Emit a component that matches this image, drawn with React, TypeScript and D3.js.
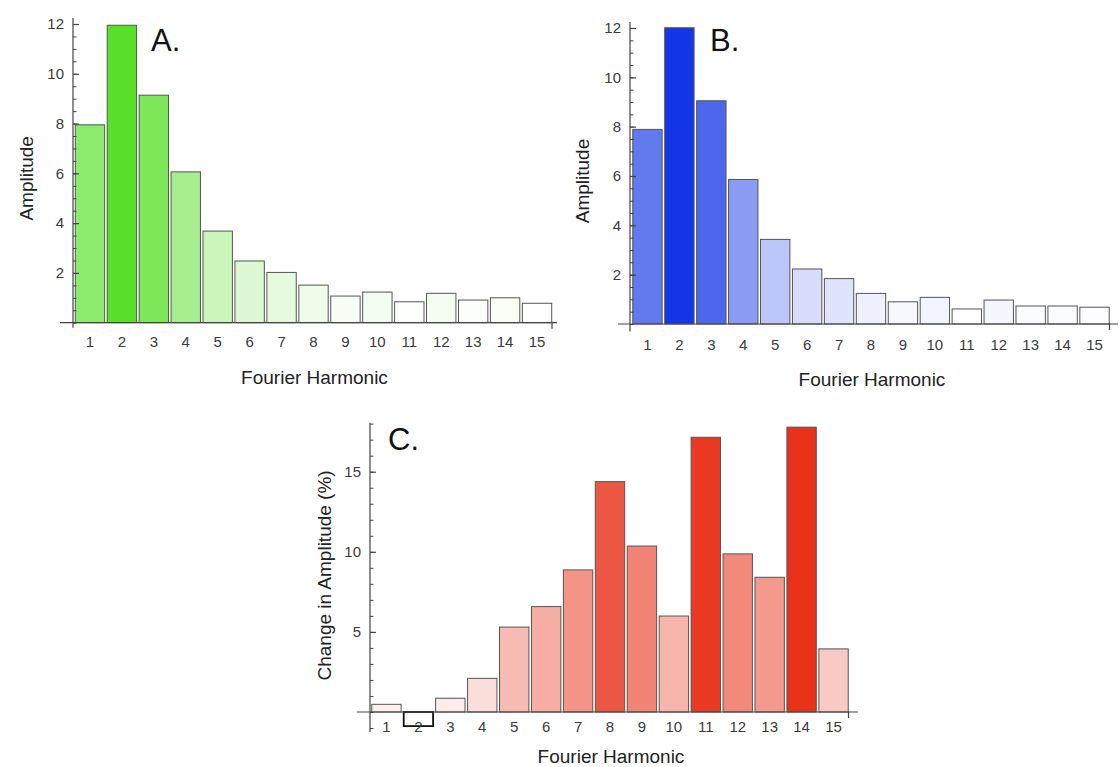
import * as d3 from 'd3';
import React, { useRef, useEffect } from 'react';

// harmonic numbers along the x axis
const harmonics = ['1', '2', '3', '4', '5', '6', '7', '8', '9', '10', '11', '12', '13', '14', '15'];

// panel A amplitudes
const ampA = [7.95, 11.95, 9.14, 6.06, 3.68, 2.48, 2.02, 1.51, 1.07, 1.23, 0.84, 1.18, 0.91, 1.0, 0.78];
// panel B amplitudes
const ampB = [7.89, 12.01, 9.05, 5.86, 3.43, 2.23, 1.84, 1.24, 0.9, 1.08, 0.61, 0.97, 0.73, 0.73, 0.68];
// panel C change in amplitude (%)
const changeC = [0.48, -0.88, 0.86, 2.1, 5.3, 6.58, 8.87, 14.38, 10.36, 5.99, 17.15, 9.87, 8.41, 17.78, 3.94];

const ampTicks = [2, 4, 6, 8, 10, 12];
const changeTicks = [5, 10, 15];

const FONT = "'Liberation Sans', Arial, sans-serif";

const panels = [
  {
    values: ampA, letter: 'A.', color: '#58e02a', gamma: 0.85, ticks: ampTicks, minorStep: 0.5,
    yLabel: 'Amplitude',
    axisX: 73, xRange: [74, 553], yDomain: [0, 12], yRange: [322.7, 24],
    axisTop: 12.24, axisBottom: -0.2, xLineFrom: 60, xLineTo: 557,
    tickLabelY: 347, titleY: 384, yTitleX: 33, letterX: 151, letterY: 51,
  },
  {
    values: ampB, letter: 'B.', color: '#1536e6', gamma: 0.9, ticks: ampTicks, minorStep: 0.5,
    yLabel: 'Amplitude',
    axisX: 630, xRange: [631.5, 1110.5], yDomain: [0, 12], yRange: [324, 28],
    axisTop: 12.24, axisBottom: -0.3, xLineFrom: 618, xLineTo: 1118,
    tickLabelY: 350, titleY: 386, yTitleX: 589, letterX: 710, letterY: 51,
  },
  {
    values: changeC, letter: 'C.', color: '#e8321a', gamma: 1, ticks: changeTicks, minorStep: 1,
    yLabel: 'Change in Amplitude (%)',
    axisX: 370, xRange: [370.5, 849.5], yDomain: [0, 15], yRange: [712, 471.7],
    axisTop: 18.05, axisBottom: -1.25, xLineFrom: 357, xLineTo: 858,
    tickLabelY: 732, titleY: 763, yTitleX: 331, letterX: 388, letterY: 450,
  },
];

function drawPanel(svg, p) {
  const g = svg.append('g');
  const x = d3.scaleBand().domain(harmonics).range(p.xRange).paddingInner(0.08).paddingOuter(0.04);
  const y = d3.scaleLinear().domain(p.yDomain).range(p.yRange);
  const lo = d3.min(p.values);
  const hi = d3.max(p.values);
  const shade = d3.interpolateRgb('#ffffff', p.color);
  const y0 = y(0);

  // bars
  g.selectAll('rect')
    .data(p.values)
    .join('rect')
    .attr('x', (d, i) => x(harmonics[i]))
    .attr('y', (d) => y(Math.max(0, d)))
    .attr('width', x.bandwidth())
    .attr('height', (d) => Math.abs(y(d) - y0))
    .attr('fill', (d) => shade(Math.pow((d - lo) / (hi - lo), p.gamma)))
    .attr('stroke', (d) => (d < 0 ? '#111' : '#555'))
    .attr('stroke-width', (d) => (d < 0 ? 1.8 : 1));

  // x axis line with end tick
  g.append('line')
    .attr('x1', p.xLineFrom).attr('x2', p.xLineTo)
    .attr('y1', y0).attr('y2', y0)
    .attr('stroke', '#444').attr('stroke-width', 1.2);
  g.append('line')
    .attr('x1', p.xRange[1] - 1).attr('x2', p.xRange[1] - 1)
    .attr('y1', y0 - 1).attr('y2', y0 + 6)
    .attr('stroke', '#444').attr('stroke-width', 1.2);

  // x tick labels
  g.selectAll('text.xt')
    .data(harmonics)
    .join('text')
    .attr('class', 'xt')
    .attr('x', (d) => x(d) + x.bandwidth() / 2)
    .attr('y', p.tickLabelY)
    .attr('text-anchor', 'middle')
    .style('font-family', FONT)
    .style('font-size', '15px')
    .style('fill', '#3a3a3a')
    .text((d) => d);

  // y axis: minor then major ticks
  const minor = d3.range(Math.ceil(p.axisBottom / p.minorStep) * p.minorStep, p.axisTop + 1e-6, p.minorStep);
  const yMinor = g.append('g')
    .attr('transform', `translate(${p.axisX},0)`)
    .call(d3.axisLeft(y).tickValues(minor).tickSize(-3.5).tickFormat(() => ''));
  yMinor.select('.domain').remove();
  yMinor.selectAll('line').attr('stroke', '#444');

  const yMajor = g.append('g')
    .attr('transform', `translate(${p.axisX},0)`)
    .call(d3.axisLeft(y).tickValues(p.ticks).tickSize(-6).tickPadding(9));
  yMajor.select('.domain').remove();
  yMajor.selectAll('line').attr('stroke', '#444').attr('stroke-width', 1.2);
  yMajor.selectAll('text')
    .style('font-family', FONT)
    .style('font-size', '15px')
    .style('fill', '#3a3a3a');

  g.append('line')
    .attr('x1', p.axisX).attr('x2', p.axisX)
    .attr('y1', y(p.axisTop)).attr('y2', y(p.axisBottom))
    .attr('stroke', '#444').attr('stroke-width', 1.2);

  // axis titles
  const midX = (p.xRange[0] + p.xRange[1]) / 2;
  g.append('text')
    .attr('x', midX + 1)
    .attr('y', p.titleY)
    .attr('text-anchor', 'middle')
    .style('font-family', FONT)
    .style('font-size', '19px')
    .style('fill', '#222')
    .text('Fourier Harmonic');

  const midY = (y(p.axisTop) + y0) / 2;
  g.append('text')
    .attr('transform', `translate(${p.yTitleX},${midY + 8}) rotate(-90)`)
    .attr('text-anchor', 'middle')
    .style('font-family', FONT)
    .style('font-size', '19px')
    .style('fill', '#222')
    .text(p.yLabel);

  // panel letter
  g.append('text')
    .attr('x', p.letterX)
    .attr('y', p.letterY)
    .style('font-family', FONT)
    .style('font-size', '31px')
    .style('fill', '#111')
    .text(p.letter);
}

export default function App() {
  const ref = useRef(null);

  useEffect(() => {
    const svg = d3.select(ref.current);
    svg.selectAll('*').remove();
    svg.append('rect').attr('width', 1119).attr('height', 767).attr('fill', '#ffffff');
    panels.forEach((p) => drawPanel(svg, p));
  }, []);

  return (
    <svg
      ref={ref}
      width={1119}
      height={767}
      viewBox="0 0 1119 767"
      style={{ position: 'absolute', left: 0, top: 0, display: 'block' }}
    />
  );
}
